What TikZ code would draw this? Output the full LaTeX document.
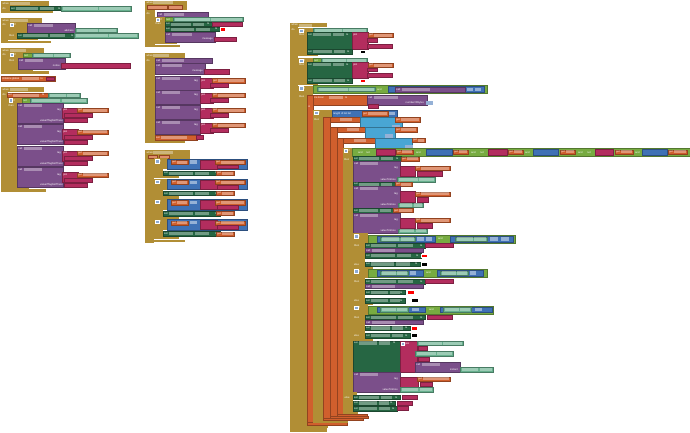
\documentclass[tikz,border=0pt]{standalone}
\usepackage{fontspec}
\setmainfont{Liberation Sans}
\definecolor{cGold}{HTML}{B18E35}
\definecolor{cSet}{HTML}{266643}
\definecolor{cTeal}{HTML}{67B08E}
\definecolor{cPur}{HTML}{7B4F8A}
\definecolor{cPink}{HTML}{B32D5E}
\definecolor{cOr}{HTML}{D05F2D}
\definecolor{cBlue}{HTML}{3F71B5}
\definecolor{cLog}{HTML}{77AB41}
\definecolor{cList}{HTML}{49A6D4}
\tikzset{
 kgd/.style={fill=cGold},
 ksg/.style={fill=cSet,draw=cSet!70!black,line width=.2pt},
 ktl/.style={fill=cTeal,draw=cTeal!70!black,line width=.2pt},
 kpu/.style={fill=cPur,draw=cPur!70!black,line width=.2pt},
 kpk/.style={fill=cPink,draw=cPink!70!black,line width=.2pt},
 kog/.style={fill=cOr,draw=cOr!70!black,line width=.2pt},
 kogl/.style={fill=cOr!70!white,draw=cOr!70!black,line width=.2pt},
 kbl/.style={fill=cBlue,draw=cBlue!70!black,line width=.2pt},
 kbll/.style={fill=cBlue!55!white},
 klg/.style={fill=cLog,draw=cLog!70!black,line width=.2pt},
 klst/.style={fill=cList,draw=cList!70!black,line width=.2pt},
 kdd/.style={fill=white,fill opacity=.35},
 kred/.style={fill=red,draw=white,line width=.3pt},
 kblk/.style={fill=black,draw=white,line width=.3pt},
 kmut/.style={fill=cBlue!60!white,draw=white,line width=.2pt},
 klb/.style={anchor=west,inner sep=0,text=white,font=\fontsize{2.6}{2.6}\selectfont},
 klbr/.style={anchor=east,inner sep=0,text=white,font=\fontsize{2.6}{2.6}\selectfont}
}
\newcommand\blk[5]{\path[#5] (#1,#2) rectangle ++(#3,#4);}
\newcommand\lbl[3]{\node[klb] at (#1,#2) {#3};}
\newcommand\lblr[3]{\node[klbr] at (#1,#2) {#3};}
\newcommand\ddn[3]{\path[kdd] (#1,#2) rectangle ++(#3,3.1);}
\newcommand\mut[2]{\path[kmut] (#1,#2) rectangle ++(3.2,3.2);}
\newcommand\setb[3]{\blk{#1}{#2}{#3}{4.5}{ksg}\lbl{#1+1}{#2+2.3}{set}\path[kdd] (#1+6,#2+0.7) rectangle ++(#3*0.42,3.1);\path[kdd] (#1+8+#3*0.42,#2+0.7) rectangle ++(#3*0.25,3.1);\lbl{#1+#3-5}{#2+2.3}{to}}
\newcommand\getb[3]{\blk{#1}{#2}{#3}{4.1}{kog}\lbl{#1+1}{#2+2.1}{get}\path[kdd] (#1+6,#2+0.5) rectangle ++(#3-7,3.1);}
\newcommand\tlb[3]{\blk{#1}{#2}{#3}{4.3}{ktl}\path[kdd] (#1+1.5,#2+0.6) rectangle ++(#3*0.5,3.1);\path[kdd] (#1+3+#3*0.5,#2+0.6) rectangle ++(#3*0.5-4.5,3.1);}
\newcommand\callb[4]{\blk{#1}{#2}{#3}{#4}{kpu}\lbl{#1+1}{#2+2.4}{call}\path[kdd] (#1+6.5,#2+0.8) rectangle ++(#3*0.4,3.1);}
\newcommand\ifl[2]{\mut{#1}{#2}\lbl{#1+4}{#2+1.6}{if}}
\begin{document}
\begin{tikzpicture}[x=1pt,y=-1pt]
\useasboundingbox[fill=white] (0,0) rectangle (690,432);

% ---------- A : BeforePicking
\blk{1}{1}{48}{5}{kgd}\blk{1}{1}{9}{12}{kgd}\blk{1}{10.5}{52}{2.5}{kgd}
\lbl{2.5}{3.5}{when}\ddn{10}{1.9}{20}
\lbl{2.5}{8.5}{do}
\setb{10}{6}{53}
\tlb{61}{6.3}{70}

% ---------- B : AfterPicking
\blk{1}{18}{41}{4.5}{kgd}\blk{1}{18}{7}{25}{kgd}\blk{1}{40.5}{50}{2.5}{kgd}
\lbl{2.5}{20.2}{when}\ddn{10}{18.7}{18}
\lbl{2.5}{25}{do}
\blk{8}{22.5}{20}{10.5}{kgd}\blk{8}{22.5}{9}{17.5}{kgd}\blk{8}{37.5}{30}{2.3}{kgd}
\ifl{10}{23.3}
\callb{27}{23}{48}{10}\lblr{74}{30.3}{address}
\tlb{75}{28.2}{42}
\lbl{9}{35.4}{then}
\setb{17}{33.2}{59}
\tlb{74}{33.4}{64}

% ---------- C : Screen1.Initialize
\blk{1}{48}{43}{4.5}{kgd}\blk{1}{48}{7}{25.5}{kgd}\blk{1}{71}{48}{2.5}{kgd}
\lbl{2.5}{50.2}{when}\ddn{10}{48.7}{16}
\lbl{2.5}{55}{do}
\blk{8}{52.5}{16}{5.5}{kgd}\blk{8}{52.5}{10}{18.5}{kgd}\blk{8}{68.5}{25}{2.5}{kgd}
\ifl{10}{53.2}
\blk{23}{53}{9}{4.5}{klg}\lbl{24}{55.3}{not}
\tlb{32}{53}{38}
\lbl{9}{60.3}{then}
\callb{18}{58}{47}{11}\lblr{60}{65.8}{notice}
\blk{61}{63.5}{69}{4.5}{kpk}

% ---------- D : global
\blk{1}{76}{54}{5}{kog}\lbl{2}{78.5}{initialize global}\ddn{22}{77}{17}\lbl{40.5}{78.5}{to}
\blk{46}{76.6}{8}{3.8}{kpk}

% ---------- E : ListPicker2 / load
\blk{1}{87}{43}{4.5}{kgd}\blk{1}{87}{7}{104.5}{kgd}\blk{1}{189}{45}{2.5}{kgd}
\lbl{2.5}{89.2}{when}\ddn{10}{87.7}{18}
\lbl{2.5}{94.8}{do}
\blk{7}{92.8}{44}{4.6}{kog}\lbl{8}{95.1}{set}\ddn{13}{93.5}{26}\lbl{42}{95.1}{to}
\tlb{48}{93.1}{32}
\blk{7}{97.8}{16}{5.5}{kgd}\blk{7}{97.8}{10}{91}{kgd}\blk{7}{187}{22}{2.2}{kgd}
\ifl{9}{98.5}
\blk{22}{98.3}{8}{4.5}{klg}\lbl{23}{100.6}{not}
\tlb{30}{98.3}{57}
\lbl{8.5}{105.5}{then}
\foreach \py in {103,124.5,146,167.5}{
 \callb{17}{\py}{46}{20}
 \lblr{61}{\py+7.3}{tag}
 \blk{62}{\py+5}{16}{10}{kpk}\lbl{63}{\py+7.2}{join}
 \getb{77}{\py+5.3}{31}
 \blk{64}{\py+10.5}{28}{4}{kpk}
 \lblr{63}{\py+17.4}{valueIfTagNotThere}
 \blk{64}{\py+15.5}{23}{4}{kpk}
}

% ---------- F : BluetoothError
\blk{145}{0.5}{42}{9}{kgd}\blk{145}{0.5}{10}{46.5}{kgd}\blk{145}{44.5}{35}{2.5}{kgd}
\lbl{146.5}{2.6}{when}\ddn{153}{1}{20}
\blk{147}{5.4}{20}{3.4}{kogl}\blk{168}{5.4}{14}{3.4}{kogl}
\lbl{146.5}{13.5}{do}
\callb{157}{11.7}{51}{5}
\blk{155}{16.8}{11}{4.8}{kgd}\blk{155}{16.8}{10}{27}{kgd}\blk{155}{42}{22}{2.2}{kgd}
\ifl{156}{17.6}
\blk{165}{17}{8}{4.3}{klg}\lbl{166}{19.2}{not}
\tlb{173}{17}{70}
\lbl{155.5}{24}{then}
\setb{165}{21.8}{47}\blk{212}{22}{30}{4.3}{kpk}
\setb{165}{26.8}{55}\path[kred] (220,27.4) rectangle ++(5,3.4);
\callb{165}{31.8}{50}{10}\lblr{213}{39.4}{message}
\blk{214}{37.2}{22}{4.3}{kpk}

% ---------- G : Clear
\blk{145}{53}{40}{4.5}{kgd}\blk{145}{53}{10}{90}{kgd}\blk{145}{140.5}{40}{2.5}{kgd}
\lbl{146.5}{55.2}{when}\ddn{153}{53.7}{16}
\lbl{146.5}{60.6}{do}
\callb{155}{58.3}{57}{4.7}
\callb{155}{63.3}{50}{11}\lblr{203}{71.4}{message}
\blk{204}{69.2}{25}{4.4}{kpk}
\foreach \py in {76,90.5,105.5,120.5}{
 \callb{155}{\py}{45}{14}\lblr{198}{\py+4.5}{tag}
 \blk{200}{\py+2.3}{13}{10}{kpk}\lbl{201}{\py+4.4}{join}
 \getb{212}{\py+2.5}{33}
 \blk{210}{\py+7.5}{18}{4}{kpk}
}
\blk{155}{135}{42}{4.6}{kog}\lbl{156}{137.3}{set}\ddn{161}{135.7}{26}
\blk{196}{135.3}{7}{4}{kpk}

% ---------- H : GotValue
\blk{145}{150}{45}{8.5}{kgd}\blk{145}{150}{9}{92.5}{kgd}\blk{145}{239.5}{40}{2.5}{kgd}
\lbl{146.5}{152.2}{when}\ddn{153}{150.7}{20}
\blk{148}{154.6}{9}{3.3}{kogl}\blk{159}{154.6}{10}{3.3}{kogl}
\foreach \py in {158.3,178.5,198.7,218.9}{
 \blk{154}{\py}{14}{11}{kgd}\blk{154}{\py}{9}{20}{kgd}\blk{154}{\py+17.8}{25}{2.2}{kgd}
 \ifl{155.5}{\py+1.2}
 \blk{167}{\py+0.5}{80}{10.5}{kbl}
 \getb{171}{\py+1.8}{17}
 \path[kbll] (190,\py+2) rectangle ++(7,3.4);
 \blk{200}{\py+1.5}{17}{9}{kpk}
 \getb{215}{\py+1.8}{30}
 \blk{217}{\py+6.3}{21}{3.8}{kpk}
 \setb{163}{\py+12.5}{57}
 \getb{216}{\py+12.7}{18}
}

% ---------- I : Clock1.Timer
\blk{290}{22.7}{37}{4.7}{kgd}\blk{290}{22.7}{8}{409}{kgd}\blk{290}{428}{37}{3.5}{kgd}
\lbl{291.5}{25}{when}\ddn{298.5}{23.5}{13}
\lbl{291.5}{30}{do}
% if1
\blk{298}{27.8}{15}{4.8}{kgd}\blk{298}{27.8}{9}{28}{kgd}\blk{298}{53.8}{20}{2}{kgd}
\ifl{299.5}{28.6}
\tlb{313}{28}{54}
\lbl{299}{35}{then}
\blk{307}{32.5}{45}{17}{ksg}\lbl{308}{34.8}{set}\ddn{313}{33.2}{18}\ddn{333}{33.2}{11}\lbl{346}{34.8}{to}
\blk{352}{32.5}{16}{17}{kpk}\lbl{353}{34.8}{join}
\getb{368}{33}{25}
\blk{367}{38.5}{10}{3.8}{kpk}
\blk{367}{43.7}{25}{4}{kpk}
\setb{307}{49.5}{45}\path[kblk] (360,50) rectangle ++(5,3.5);
% if2
\blk{298}{57.8}{15}{4.8}{kgd}\blk{298}{57.8}{9}{27}{kgd}\blk{298}{83}{20}{2}{kgd}
\ifl{299.5}{58.6}
\blk{313}{58}{8}{4.4}{klg}\lbl{314}{60.2}{not}
\tlb{321}{58}{46}
\lbl{299}{65}{then}
\blk{307}{62.5}{45}{16}{ksg}\lbl{308}{64.8}{set}\ddn{313}{63.2}{18}\ddn{333}{63.2}{11}\lbl{346}{64.8}{to}
\blk{352}{62.5}{16}{16}{kpk}\lbl{353}{64.8}{join}
\getb{368}{63}{25}
\blk{367}{67.7}{10}{3.8}{kpk}
\blk{367}{72.7}{25}{4}{kpk}
\setb{307}{78.5}{45}\path[kred] (360,79) rectangle ++(5,3.5);
% if3
\blk{298}{85.5}{15}{9.5}{kgd}\blk{298}{85.5}{9}{342}{kgd}\blk{298}{425}{30}{2.6}{kgd}
\ifl{299.5}{86.5}
\blk{313}{85.5}{174}{8}{klg}
\tlb{317}{87.2}{58}
\lbl{377}{89.5}{and}
\blk{388}{86.5}{96}{6}{kbl}
\callb{395}{87.3}{70}{4.4}
\path[kbll] (467,87.7) rectangle ++(6,3.5);\path[kbll] (475,87.7) rectangle ++(6,3.5);
\lbl{299}{97}{then}
\blk{307}{95}{60}{10}{kog}\lbl{308}{97.5}{initialize local}\ddn{329}{96}{14}\lbl{345}{97.5}{to}
\blk{307}{95}{6}{330}{kog}\blk{307}{422.5}{40}{2.5}{kog}
\lbl{308}{107}{in}
\callb{367}{95}{60}{10}\lblr{424}{102.5}{numberOfBytes}
\path[kbll] (426,100.5) rectangle ++(7,4);
\blk{368}{104}{10}{4}{kpk}
% if length of list
\blk{313}{110}{19}{7.5}{kgd}\blk{313}{110}{10}{312.5}{kgd}\blk{313}{420}{35}{2.5}{kgd}
\ifl{314.5}{111}
\blk{332}{110.5}{65}{6.5}{kbl}\lbl{333}{113.7}{length of list list}
\getb{362}{111.5}{26}
\path[kbll] (389,111.7) rectangle ++(6,3.6);
\lbl{314}{120}{then}
% init locals
\blk{323}{117}{39}{5.5}{kog}\ddn{340}{118}{12}
\blk{323}{117}{7}{303}{kog}\blk{323}{418}{40}{2}{kog}
\blk{360}{117}{42}{13}{klst}\getb{395}{117.5}{25}\path[kbll] (392,124.5) rectangle ++(8,3.8);
\blk{330}{127}{40}{5.5}{kog}\ddn{347}{128}{12}
\blk{330}{127}{7}{291}{kog}\blk{330}{416}{38}{2}{kog}
\blk{365}{127}{30}{11}{klst}\getb{395}{127.5}{22}\path[kbll] (385,134) rectangle ++(8,3.8);
\blk{337}{137.7}{38}{5.5}{kog}\ddn{354}{138.7}{12}
\blk{337}{137.7}{6}{276.5}{kog}\blk{337}{414}{30}{2}{kog}
\blk{375}{137.7}{37}{12.3}{klst}\getb{412}{138.2}{13}\path[kbll] (405,144.5) rectangle ++(8,3.8);
% inner if
\blk{343}{148}{10}{266}{kgd}\blk{343}{411.5}{15}{2.5}{kgd}
\ifl{344}{149}
\blk{352}{148.3}{338}{7.8}{klg}
\lbl{358}{152.2}{and}\lbl{366}{152.2}{not}
\blk{376}{149.5}{19}{5.3}{kpk}\getb{396}{149.8}{17}
\lbl{416}{152.2}{and}
\blk{426}{149.5}{26}{5.3}{kbl}\getb{453}{149.8}{15}
\lbl{471}{152.2}{and}\lbl{480}{152.2}{not}
\blk{488}{149.5}{19}{5.3}{kpk}\getb{508}{149.8}{15}
\lbl{525}{152.2}{and}
\blk{533}{149.5}{25}{5.3}{kbl}\getb{560}{149.8}{15}
\lbl{578}{152.2}{and}\lbl{587}{152.2}{not}
\blk{595}{149.5}{18}{5.3}{kpk}\getb{615}{149.8}{18}
\lbl{635}{152.2}{and}
\blk{642}{149.5}{25}{5.3}{kbl}\getb{668}{149.8}{19}
\lbl{344}{159.5}{then}
% then body
\setb{353}{156.5}{48}\getb{401}{156.7}{18}
\callb{353}{160.8}{47}{21}\lblr{398}{168}{tag}
\blk{400}{166}{15}{10.5}{kpk}\getb{415}{166.2}{35}\blk{417}{171.5}{25}{4.2}{kpk}
\lblr{396}{179.5}{valueToStore}\tlb{397}{177.3}{38}
\setb{353}{181.8}{47}\getb{395}{182}{17}
\callb{353}{186.3}{47}{21.7}\lblr{398}{193.5}{tag}
\blk{400}{191.5}{15}{11}{kpk}\getb{415}{191.8}{35}\blk{417}{197.5}{11}{4.2}{kpk}
\lblr{396}{205}{valueToStore}\tlb{398}{202.8}{25}
\setb{353}{208.2}{45}\getb{393}{208.4}{20}
\callb{353}{212.7}{47}{20.5}\lblr{398}{220}{tag}
\blk{400}{218}{15}{10.5}{kpk}\getb{415}{218.2}{35}\blk{417}{223.5}{15}{4.2}{kpk}
\lblr{396}{231}{valueToStore}\tlb{398}{228.7}{29}
% if A
\blk{353}{233.3}{15}{10}{kgd}\blk{353}{233.3}{12}{35}{kgd}\blk{353}{266.5}{20}{2}{kgd}
\ifl{354.5}{234.5}
\blk{368}{235}{147}{8.3}{klg}
\blk{377}{236}{58}{5.7}{kbl}\tlb{380}{236.8}{35}\path[kbll] (417,237) rectangle ++(7,3.6);\path[kbll] (426,237) rectangle ++(6,3.6);
\lbl{438}{239}{and}
\blk{450}{236}{63}{5.7}{kbl}\tlb{455}{236.8}{32}\path[kbll] (490,237) rectangle ++(8,3.6);\path[kbll] (501,237) rectangle ++(8,3.6);
\lbl{354}{245.7}{then}
\setb{365}{243.3}{60}\blk{425}{243.5}{28}{4}{kpk}
\callb{365}{247.8}{58}{4.2}
\setb{365}{253.3}{56}\path[kred] (421,253.8) rectangle ++(6,3.6);
\lbl{354}{264.3}{else}
\setb{365}{261.7}{55}\path[kblk] (421,262.2) rectangle ++(6,3.6);
% if B
\blk{353}{268.3}{15}{10}{kgd}\blk{353}{268.3}{12}{35}{kgd}\blk{353}{302.7}{20}{1.8}{kgd}
\ifl{354.5}{269.5}
\blk{368}{269}{119}{8}{klg}
\blk{377}{270}{46}{5.7}{kbl}\tlb{380}{270.8}{28}\path[kbll] (410,271) rectangle ++(6,3.6);
\lbl{426}{273}{and}
\blk{437}{270}{46}{5.7}{kbl}\tlb{440}{270.8}{28}\path[kbll] (470,271) rectangle ++(6,3.6);
\lbl{354}{281.5}{then}
\setb{365}{279.3}{60}\blk{425}{279.5}{28}{4}{kpk}
\callb{365}{284}{58}{4.3}
\setb{365}{290}{40}\path[kred] (407,290.5) rectangle ++(7,3.6);
\lbl{354}{300.4}{else}
\setb{365}{298.2}{40}\path[kblk] (411,298.6) rectangle ++(7,3.6);
% if C
\blk{353}{304.5}{15}{10}{kgd}\blk{353}{304.5}{12}{36}{kgd}\blk{353}{338.5}{20}{2}{kgd}
\ifl{354.5}{305.7}
\blk{368}{305.7}{125}{8}{klg}
\blk{377}{306.7}{48}{5.7}{kbl}\tlb{380}{307.5}{28}\path[kbll] (412,307.7) rectangle ++(7,3.6);
\lbl{429}{309.5}{and}
\blk{440}{306.7}{52}{5.7}{kbl}\tlb{443}{307.5}{28}\path[kbll] (475,307.7) rectangle ++(7,3.6);
\lbl{354}{317.3}{then}
\setb{365}{315}{60}\blk{427}{315.2}{25}{4}{kpk}
\callb{365}{320}{58}{4}
\setb{365}{325.7}{45}\path[kred] (411,326.1) rectangle ++(6,3.6);
\lbl{354}{335.5}{else}
\setb{365}{333.2}{45}\path[kblk] (411,333.6) rectangle ++(6,3.6);
% big set with join
\blk{353}{340.7}{47}{31}{ksg}\lbl{354}{343}{set}\ddn{359}{341.4}{18}\ddn{379}{341.4}{11}\lbl{393}{343}{to}
\blk{400}{341}{17}{30.7}{kpk}\mut{401}{341.8}\lbl{405}{343.4}{join}
\tlb{417}{341.2}{46}
\blk{418}{346.2}{9}{4.3}{kpk}
\tlb{415}{351.3}{38}
\blk{418}{356.7}{11}{4.3}{kpk}
\callb{415}{361.7}{45}{10}\lblr{458}{369.4}{instant}
\tlb{460}{367.3}{33}
% StoreValue
\callb{353}{371.7}{47}{20}\lblr{398}{379}{tag}
\blk{400}{376.7}{18}{10}{kpk}\getb{417}{376.8}{33}\blk{420}{381.8}{12}{4.2}{kpk}
\lblr{398}{389.5}{valueToStore}\tlb{400}{387.3}{33}
% else
\blk{343}{391.7}{14}{3.3}{kgd}
\lbl{344.5}{397.3}{else}
\setb{353}{395}{47}\blk{402}{395.2}{15}{4}{kpk}
\setb{353}{400.7}{42}\blk{397}{400.9}{15}{4}{kpk}
\setb{353}{406.2}{44}\blk{397}{406.4}{11}{4}{kpk}
\end{tikzpicture}
\end{document}
